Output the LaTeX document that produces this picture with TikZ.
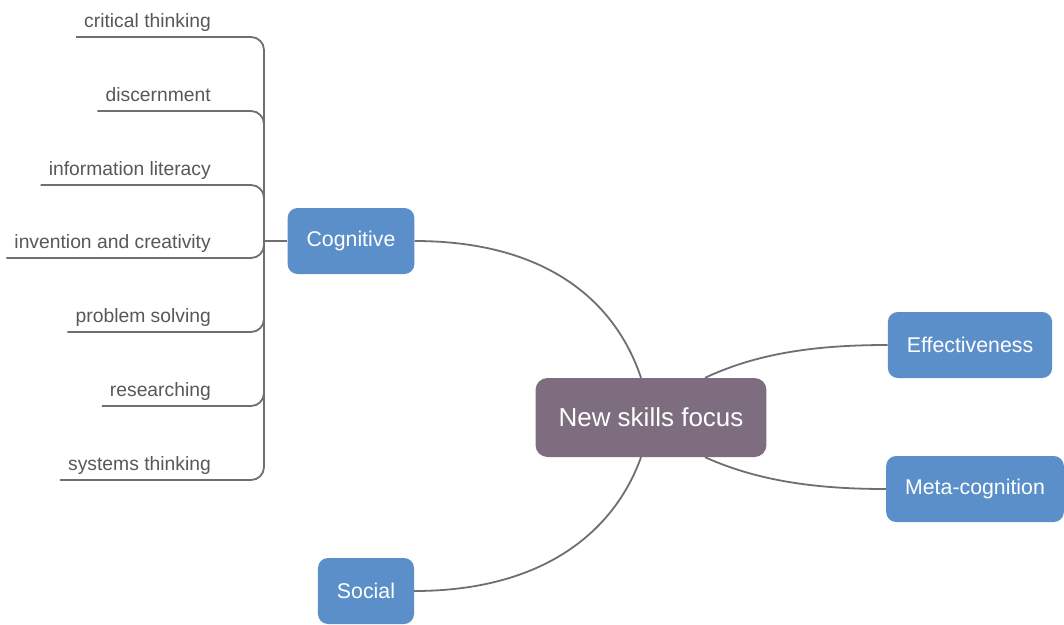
\documentclass[tikz,border=0pt]{standalone}
\usepackage{fontspec}
\setmainfont{Liberation Sans}
\definecolor{topicblue}{HTML}{5B8FCA}
\definecolor{centralmauve}{HTML}{7D6D7E}
\definecolor{linegray}{HTML}{6F6F72}
\definecolor{leafgray}{HTML}{58585C}
\tikzset{
  topicbox/.style={fill=topicblue, text=white, rounded corners=10pt, minimum height=66pt,
    inner xsep=19pt, font=\fontsize{21.3}{25}\selectfont},
  centralbox/.style={fill=centralmauve, text=white, rounded corners=12pt, minimum height=79pt,
    inner xsep=23pt, font=\fontsize{26}{31}\selectfont},
  leaf/.style={anchor=south east, text=leafgray, inner xsep=8pt, inner ysep=5pt,
    text height=13pt, text depth=4pt, font=\fontsize{19.3}{23}\selectfont},
  conn/.style={draw=linegray, line width=1.8pt},
  branch/.style={conn, rounded corners=13pt},
}
\begin{document}
\begin{tikzpicture}[x=1pt,y=-1pt]
\useasboundingbox (0,0) rectangle (1064,624);
\fill[white] (0,0) rectangle (1064,624);

\node[centralbox] (center) at (651,417.5) {New skills focus};
\node[topicbox] (cog) at (351,241) {Cognitive};
\node[topicbox] (soc) at (366,591) {Social};
\node[topicbox] (eff) at (970,345) {Effectiveness};
\node[topicbox] (meta) at (975,489) {Meta-cognition};

\draw[conn] ([xshift=-10pt]center.north) .. controls (615,300) and (545,241) .. (cog.east);
\draw[conn] ([xshift=-10pt]center.south) .. controls (615,530) and (545,591) .. (soc.east);
\draw[conn] ([xshift=54pt]center.north) .. controls (760,352) and (820,345) .. (eff.west);
\draw[conn] ([xshift=54pt]center.south) .. controls (760,482) and (820,489) .. (meta.west);

\coordinate (hub) at (264,241);
\draw[conn] (cog.west) -- (hub);

\node[leaf] (l1) at (219,37) {critical thinking};
\node[leaf] (l2) at (219,111) {discernment};
\node[leaf] (l3) at (219,185) {information literacy};
\node[leaf] (l4) at (219,258) {invention and creativity};
\node[leaf] (l5) at (219,332) {problem solving};
\node[leaf] (l6) at (219,406) {researching};
\node[leaf] (l7) at (219,480) {systems thinking};

\foreach \l in {l1,l2,l3,l4,l5,l6,l7}
  \draw[branch] (\l.south west) -| (hub);
\end{tikzpicture}
\end{document}
